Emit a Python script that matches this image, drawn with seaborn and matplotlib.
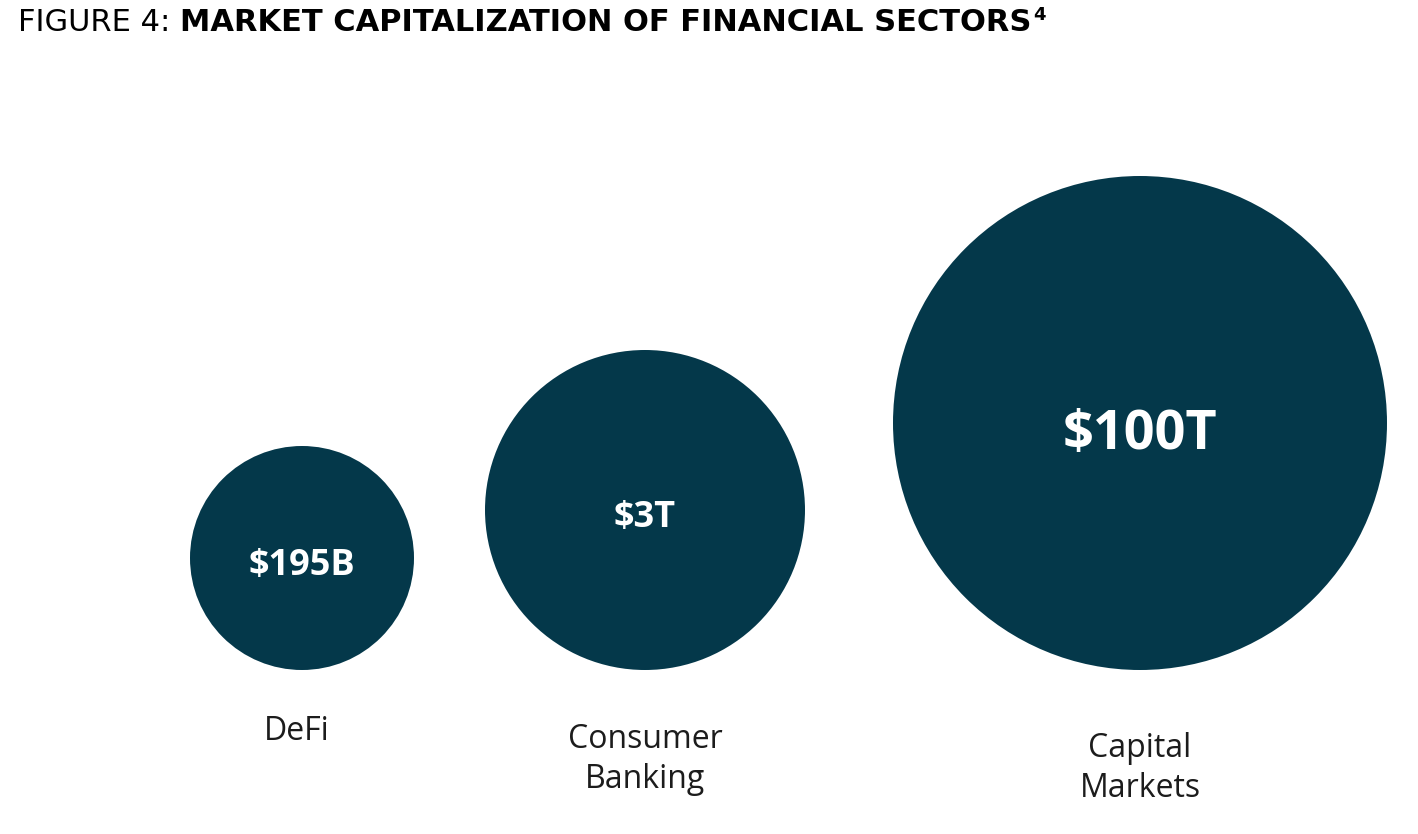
import matplotlib
matplotlib.use("Agg")
import matplotlib.pyplot as plt
import seaborn as sns
import pandas as pd

# ---- data ----
categories = ["DeFi", "Consumer\nBanking", "Capital\nMarkets"]
value_labels = ["$195B", "$3T", "$100T"]
# display radius (px) of each bubble as drawn in the reference (not proportional)
bubble_radius_px = [112, 160, 247]

# ---- layout / style ----
W, H, DPI = 1418, 834, 100
centers_x = [302, 645, 1140]
baseline_y = 670
circle_color = "#04384A"

sns.set_theme(style="white")
plt.rcParams["font.family"] = ["Open Sans", "DejaVu Sans"]

fig = plt.figure(figsize=(W / DPI, H / DPI), dpi=DPI)
ax = fig.add_axes([0, 0, 1, 1])
ax.set_xlim(0, W)
ax.set_ylim(H, 0)
ax.axis("off")

df = pd.DataFrame({
    "x": centers_x,
    "y": [baseline_y - r for r in bubble_radius_px],
    "r": bubble_radius_px,
    "cat": categories,
    "val": value_labels,
})
# marker size in points^2 from radius in pixels
df["s"] = [(2 * r * 72 / DPI) ** 2 for r in df["r"]]

sns.scatterplot(data=df, x="x", y="y", s=df["s"].tolist(), color=circle_color,
                edgecolor="none", linewidth=0, ax=ax, legend=False)

val_sizes = [26, 26, 39]
val_baseline_off = [17, 17, 26]   # baseline below circle centre (px)
for i, row in df.iterrows():
    ax.text(row["x"], row["y"] + val_baseline_off[i], row["val"], color="white",
            fontsize=val_sizes[i], fontweight="bold", ha="center", va="baseline")

label_first_baseline = [740, 748, 757]
label_dx = [-5, 0, 0]
line_gap = 40
for i, row in df.iterrows():
    for j, line in enumerate(row["cat"].split("\n")):
        ax.text(row["x"] + label_dx[i], label_first_baseline[i] + j * line_gap, line,
                color="#1c1c1c", fontsize=23, ha="center", va="baseline")

# title
t1 = fig.text(18 / W, 1 - 31 / H, "FIGURE 4: ", fontsize=22, color="black",
              family=["DejaVu Sans"], va="baseline", ha="left")
fig.canvas.draw()
bb = t1.get_window_extent()
t2 = fig.text(bb.x1 / W, 1 - 31 / H, "MARKET CAPITALIZATION OF FINANCIAL SECTORS",
              fontsize=22, fontweight="bold", color="black", family=["DejaVu Sans"],
              va="baseline", ha="left")
fig.canvas.draw()
bb2 = t2.get_window_extent()
fig.text(bb2.x1 / W + 0.001, 1 - 20 / H, "4", fontsize=13, fontweight="bold",
         color="black", family=["DejaVu Sans"], va="baseline", ha="left")

fig.savefig("out.png", dpi=DPI)
